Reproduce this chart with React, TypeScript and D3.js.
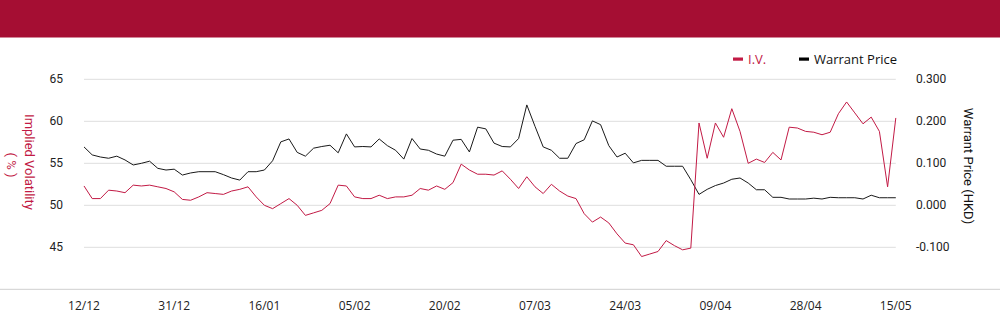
import React from 'react';
import * as d3 from 'd3';

// x tick labels, one every 11 trading days
const tickLabels = ['12/12', '31/12', '16/01', '05/02', '20/02', '07/03', '24/03', '09/04', '28/04', '15/05'];
const tickStep = 11;

// implied volatility (%)
const ivValues = [
  52.3, 50.8, 50.8, 51.8, 51.7, 51.5, 52.4, 52.3, 52.4, 52.2,
  52.0, 51.6, 50.7, 50.6, 51.0, 51.5, 51.4, 51.3, 51.7, 51.9,
  52.2, 51.0, 50.0, 49.6, 50.2, 50.8, 50.0, 48.8, 49.1, 49.4,
  50.2, 52.4, 52.3, 51.0, 50.8, 50.8, 51.2, 50.8, 51.0, 51.0,
  51.2, 52.0, 51.8, 52.3, 51.9, 52.7, 54.9, 54.2, 53.7, 53.7,
  53.6, 54.1, 53.1, 52.0, 53.4, 52.2, 51.4, 52.5, 51.7, 51.1,
  50.8, 49.0, 48.0, 48.6, 47.9, 46.6, 45.5, 45.3, 43.9, 44.2,
  44.5, 45.8, 45.2, 44.7, 44.9, 59.8, 55.6, 59.8, 58.1, 61.5,
  58.8, 55.0, 55.5, 55.1, 56.3, 55.4, 59.3, 59.2, 58.8, 58.7,
  58.4, 58.7, 60.9, 62.3, 61.0, 59.7, 60.5, 58.8, 52.2, 60.4,
];

// warrant price (HKD)
const priceValues = [
  0.139, 0.120, 0.115, 0.112, 0.117, 0.108, 0.096, 0.100, 0.105, 0.088,
  0.084, 0.086, 0.072, 0.077, 0.080, 0.080, 0.080, 0.073, 0.065, 0.060,
  0.080, 0.080, 0.084, 0.106, 0.151, 0.158, 0.126, 0.117, 0.136, 0.140,
  0.143, 0.125, 0.170, 0.139, 0.140, 0.139, 0.158, 0.142, 0.131, 0.110,
  0.159, 0.134, 0.131, 0.122, 0.117, 0.155, 0.157, 0.127, 0.186, 0.182,
  0.148, 0.140, 0.139, 0.159, 0.239, 0.188, 0.139, 0.131, 0.112, 0.112,
  0.147, 0.156, 0.201, 0.192, 0.142, 0.115, 0.124, 0.101, 0.107, 0.107,
  0.107, 0.093, 0.093, 0.093, 0.061, 0.026, 0.038, 0.047, 0.053, 0.062,
  0.065, 0.053, 0.037, 0.037, 0.019, 0.019, 0.015, 0.015, 0.015, 0.017,
  0.015, 0.019, 0.018, 0.018, 0.018, 0.015, 0.024, 0.018, 0.018, 0.018,
];

const leftTicks = [45, 50, 55, 60, 65];
const rightTicks = [-0.1, 0, 0.1, 0.2, 0.3];

const RED = '#c21a45';
const BANNER = '#a50e33';

const App: React.FC = () => {
  const width = 1000;
  const height = 324;
  const plotLeft = 84;
  const plotRight = 895.8;
  const plotTop = 79.3;
  const plotBottom = 289.3;

  const x = d3.scaleLinear().domain([0, ivValues.length - 1]).range([plotLeft, plotRight]);
  const yLeft = d3.scaleLinear().domain([40, 65]).range([plotBottom, plotTop]);
  const yRight = d3.scaleLinear().domain([-0.2, 0.3]).range([plotBottom, plotTop]);

  const ivLine = d3.line<number>().x((_, i) => x(i)).y((d) => yLeft(d));
  const priceLine = d3.line<number>().x((_, i) => x(i)).y((d) => yRight(d));

  const tickFont = 'Roboto, sans-serif';
  const catFont = '"Open Sans", sans-serif';

  return (
    <svg
      width={width}
      height={height}
      style={{ position: 'absolute', left: 0, top: 0, display: 'block', background: '#fff' }}
    >
      <rect x={0} y={0} width={width} height={37.5} fill={BANNER} />

      {/* legend */}
      <rect x={733} y={57.5} width={10} height={3.2} fill={RED} />
      <text x={748} y={59} dominantBaseline="central" fontFamily={catFont} fontSize={13} fill={RED}>
        I.V.
      </text>
      <rect x={799} y={57.5} width={10} height={3.2} fill="#000" />
      <text x={814} y={59} dominantBaseline="central" fontFamily={catFont} fontSize={13} fill="#111">
        Warrant Price
      </text>

      {/* gridlines */}
      {leftTicks.map((t) => (
        <line key={t} x1={plotLeft} x2={plotRight} y1={yLeft(t)} y2={yLeft(t)} stroke="#dedede" strokeWidth={1} />
      ))}
      <line x1={0} x2={width} y1={plotBottom} y2={plotBottom} stroke="#cfcfcf" strokeWidth={1} />

      {/* left axis */}
      {leftTicks.map((t) => (
        <text key={t} x={63} y={yLeft(t)} textAnchor="end" dominantBaseline="central" fontFamily={tickFont} fontSize={12} fill="#222">
          {t}
        </text>
      ))}
      <g transform="translate(29,162) rotate(90)">
        <text textAnchor="middle" dominantBaseline="central" fontFamily={tickFont} fontSize={13} fill={RED}>
          Implied Volatility
        </text>
      </g>
      <g transform="translate(11,165) rotate(90)">
        <text textAnchor="middle" dominantBaseline="central" fontFamily={tickFont} fontSize={13} fill={RED}>
          ( % )
        </text>
      </g>

      {/* right axis */}
      {rightTicks.map((t) => (
        <text key={t} x={916} y={yRight(t)} textAnchor="start" dominantBaseline="central" fontFamily={tickFont} fontSize={12} fill="#222">
          {d3.format('.3f')(t).replace('−', '-')}
        </text>
      ))}
      <g transform="translate(968,166) rotate(90)">
        <text textAnchor="middle" dominantBaseline="central" fontFamily={tickFont} fontSize={13} fill="#111">
          Warrant Price (HKD)
        </text>
      </g>

      {/* x axis labels */}
      {tickLabels.map((label, k) => (
        <text key={label} x={x(k * tickStep)} y={305} textAnchor="middle" dominantBaseline="central" fontFamily={catFont} fontSize={12} fill="#222">
          {label}
        </text>
      ))}

      {/* series */}
      <path d={priceLine(priceValues) ?? ''} fill="none" stroke="#1a1a1a" strokeWidth={1} />
      <path d={ivLine(ivValues) ?? ''} fill="none" stroke={RED} strokeWidth={1} />
    </svg>
  );
};

export default App;
